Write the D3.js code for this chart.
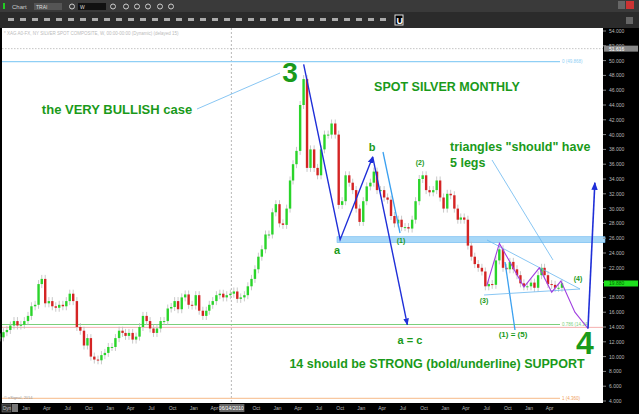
<!DOCTYPE html>
<html><head><meta charset="utf-8">
<script src="https://cdn.jsdelivr.net/npm/d3@7"></script>
<style>body{margin:0;background:#000}svg{display:block}</style>
</head><body><svg id="c" width="639" height="414"></svg>
<script>
// semi-monthly closes, starting Sep 2007
const startMonth = [2007, 8];
const closes = [
12.6,13.3, 13.6,14.2, 14.8,14.2, 14.3,14.8,
15.5,16.8, 17.0,19.8, 20.5,17.2, 17.5,16.8, 16.6,17.0, 16.8,17.5, 18.5,17.5, 14.0,13.5, 11.5,12.5, 10.0,9.6, 9.5,10.2, 10.5,11.3,
11.3,12.5, 13.5,13.2, 12.8,13.2, 12.3,12.7, 14.0,15.5, 14.8,13.8, 13.2,13.8, 14.8,14.8, 16.5,16.7, 17.5,16.4, 18.0,18.4, 17.0,16.9,
18.3,16.2, 15.5,16.2, 17.0,17.5, 18.3,18.5, 18.0,18.3, 18.5,18.8, 17.8,18.0, 18.3,19.5, 20.5,21.8, 23.5,24.5, 26.5,26.5, 29.5,30.6,
28.0,27.8, 30.0,33.8, 36.0,37.8, 44.0,47.5, 35.5,38.0, 35.5,34.5, 38.0,40.0, 40.0,41.5, 40.0,30.5, 31.0,34.5, 33.5,32.5, 30.0,28.2,
31.0,33.0, 33.5,35.0, 32.5,32.5, 31.5,31.2, 29.0,28.0, 28.5,27.5, 27.5,27.3, 28.5,31.0, 34.0,34.5, 32.5,32.2, 32.5,33.8, 31.5,30.0,
32.0,31.8, 30.0,28.5, 28.8,28.5, 25.0,23.5, 22.5,22.0, 21.5,19.5, 19.8,19.7, 23.0,24.5, 22.0,21.8, 22.8,21.8, 21.0,19.9, 19.5,19.5,
20.0,19.3, 21.0,22.0, 21.0,19.8, 19.7,19.3, 19.3,19.9
];
const priceTicks = d3.range(4, 55, 2);
const xTickLabels = ["Jan","Apr","Jul","Oct"];
const fibLevels = [
  {price:49.87, label:"0 (49.868)", color:"#8fcff5"},
  {price:14.34, label:"0.786 (14.34)", color:"#7ccf7c"},
  {price:4.36, label:"1 (4.360)", color:"#f8c8a0"}
];
const lastPrice = 19.88, dashedPrice = 51.616;
// wave annotation points [date, price]
const blueWave = [["2011-04-25",49.5],["2011-10-01",25.8],["2012-02-20",37.0],["2012-07-20",14.3]];
const purpleWave = [["2013-07-01",19.6],["2013-08-25",25.3],["2013-12-10",19.4],["2014-02-15",22.0],["2014-04-10",18.7],["2014-05-20",20.2],["2014-07-20",16.0],["2014-09-15",13.8]];
const arrowUp = [["2014-09-15",13.8],["2014-10-15",33.5]];

const svg = d3.select("#c");
const L=2, R=603, T=28, B=403;
const x = d3.scaleTime().domain([new Date(2008,0,1), new Date(2014,0,1)]).range([26,529]);
const y = d3.scaleLinear().domain([4,54]).range([401,31]);
const G="#1a9a1a";

svg.append("rect").attr("width",639).attr("height",414).attr("fill","#000");
svg.append("rect").attr("x",L).attr("y",T).attr("width",R-L).attr("height",B-T).attr("fill","#fff");
const tb=svg.append("g");
tb.append("rect").attr("width",639).attr("height",12).attr("fill","#3a3a3a");
tb.append("rect").attr("y",12).attr("width",639).attr("height",16).attr("fill","#2b2b2b");
tb.append("rect").attr("x",3).attr("y",3).attr("width",2).attr("height",6).attr("fill","#2c2");
tb.append("text").attr("x",12).attr("y",9).text("Chart").attr("fill","#ccc").attr("font-size",6).attr("font-family","Arial");
tb.append("rect").attr("x",34).attr("y",3).attr("width",28).attr("height",7).attr("fill","#555");
tb.append("text").attr("x",36).attr("y",9).text("TRAI").attr("fill","#ddd").attr("font-size",5).attr("font-family","Arial");
tb.append("rect").attr("x",78).attr("y",3).attr("width",28).attr("height",7).attr("fill","#111");
tb.append("text").attr("x",80).attr("y",9).text("W").attr("fill","#ddd").attr("font-size",5).attr("font-family","Arial");
[72,113,126,137,148,160,171].forEach(cx=>tb.append("circle").attr("cx",cx).attr("cy",6.5).attr("r",2.5).attr("fill","none").attr("stroke","#ccc"));
d3.range(8,390,12).forEach(tx=>tb.append("rect").attr("x",tx).attr("y",18).attr("width",6).attr("height",3).attr("fill","#aaa"));
tb.append("rect").attr("x",395).attr("y",15).attr("width",8).attr("height",10).attr("fill","#000").attr("stroke","#ddd");
tb.append("text").attr("x",396.5).attr("y",23.5).text("U").attr("fill","#fff").attr("font-size",9).attr("font-weight","bold").attr("font-family","Arial");
tb.append("rect").attr("x",618).attr("y",1).attr("width",7).attr("height",8).attr("fill","#666");
tb.append("rect").attr("x",626).attr("y",1).attr("width",8).attr("height",8).attr("fill","#c33");
tb.append("rect").attr("x",626).attr("y",17).attr("width",7).attr("height",7).attr("fill","#666");

svg.append("text").attr("x",4).attr("y",35).text("* XAG A0-FX, NY SILVER SPOT COMPOSITE, W, 00:00-00:00 (Dynamic) (delayed 15)")
 .attr("fill","#bbb").attr("font-size",4.5).attr("font-family","Arial");

svg.append("line").attr("x1",L).attr("x2",R).attr("y1",y(dashedPrice)).attr("y2",y(dashedPrice)).attr("stroke","#aaa").attr("stroke-dasharray","1.5,1.5").attr("stroke-width",0.7);
const vx=x(new Date(2010,5,14));
svg.append("line").attr("x1",vx).attr("x2",vx).attr("y1",T).attr("y2",B).attr("stroke","#999").attr("stroke-dasharray","2,2").attr("stroke-width",0.7);

svg.append("line").attr("x1",L).attr("x2",R).attr("y1",y(13.95)).attr("y2",y(13.95)).attr("stroke","#f5b0b0").attr("stroke-width",1);
fibLevels.forEach(f=>{
  svg.append("line").attr("x1",L).attr("x2",560).attr("y1",y(f.price)).attr("y2",y(f.price)).attr("stroke",f.color).attr("stroke-width",1.2);
  svg.append("text").attr("x",562).attr("y",y(f.price)+1.5).text(f.label).attr("fill",f.color==="#f8c8a0"?"#f0a060":f.color).attr("font-size",4.5).attr("font-family","Arial");
});

svg.append("rect").attr("x",337).attr("y",y(26.2)).attr("width",268).attr("height",y(25.4)-y(26.2)).attr("fill","#a8d8f8").attr("stroke","#6ab8f0").attr("stroke-width",0.6);

const data = closes.map((c,i)=>{
  const m = startMonth[1]+Math.floor(i/2);
  const d = new Date(startMonth[0], m, i%2?16:1);
  const o = i? closes[i-1]: c;
  return {d,o,c};
});
const cg=svg.append("g");
data.forEach(k=>{
  const cx=x(k.d)+2, hi=Math.max(k.o,k.c), lo=Math.min(k.o,k.c);
  cg.append("line").attr("x1",cx).attr("x2",cx).attr("y1",y(hi)-4).attr("y2",y(lo)+4).attr("stroke","#bbb").attr("stroke-width",0.8);
  cg.append("rect").attr("x",cx-1.2).attr("width",2.4).attr("y",y(hi)).attr("height",Math.max(1,y(lo)-y(hi)))
    .attr("fill",k.c>=k.o?"#2ad42a":"#d42424");
});

const defs=svg.append("defs");
defs.append("marker").attr("id","ab").attr("viewBox","0 0 10 10").attr("refX",9).attr("refY",5).attr("markerWidth",5).attr("markerHeight",5).attr("orient","auto")
   .append("path").attr("d","M0,1L10,5L0,9z").attr("fill","#1f2fd8");
const pt=p=>[x(new Date(p[0])),y(p[1])];
const line=d3.line();
svg.append("path").attr("d",line(blueWave.slice(0,3).map(pt))).attr("fill","none").attr("stroke","#1f2fd8").attr("stroke-width",1.4).attr("marker-end","url(#ab)");
svg.append("path").attr("d",line(blueWave.slice(2).map(pt))).attr("fill","none").attr("stroke","#1f2fd8").attr("stroke-width",1.4).attr("marker-end","url(#ab)");
const lb=(a,b)=>svg.append("line").attr("x1",a[0]).attr("y1",a[1]).attr("x2",b[0]).attr("y2",b[1]).attr("stroke","#6ab8f0").attr("stroke-width",0.8);
lb([197,109],[280,73]);
svg.append("line").attr("x1",383).attr("y1",152).attr("x2",400).attr("y2",233).attr("stroke","#3aa0f0").attr("stroke-width",1.3);
svg.append("line").attr("x1",505).attr("y1",262).attr("x2",515).attr("y2",330).attr("stroke","#3aa0f0").attr("stroke-width",1.3);
lb([487,240],[580,289]); lb([484,295],[580,289]); lb([492,160],[553,260]);
svg.append("path").attr("d",line(purpleWave.map(pt))).attr("fill","none").attr("stroke","#a040e0").attr("stroke-width",1.1);
svg.append("path").attr("d",line(arrowUp.map(pt))).attr("fill","none").attr("stroke","#1f2fd8").attr("stroke-width",1.6).attr("marker-end","url(#ab)");

const txt=(t,xx,yy,fs,anchor)=>svg.append("text").attr("x",xx).attr("y",yy).text(t).attr("fill",G).attr("font-size",fs)
  .attr("font-weight","bold").attr("font-family","Arial, Liberation Sans").attr("text-anchor",anchor||"start");
txt("3",290,82,28,"middle");
txt("the VERY BULLISH case",117,114,13,"middle");
txt("SPOT SILVER MONTHLY",447,91,12.5,"middle");
txt("triangles \"should\" have",450,151,12.5);
txt("5 legs",450,167,12.5);
txt("a",337,254,11,"middle");
txt("b",372,151,11,"middle");
txt("(1)",401,243,7,"middle");
txt("(2)",420,165,7,"middle");
txt("(3)",484,303,7,"middle");
txt("(4)",578,281,7,"middle");
txt("(1) = (5)",513,337,8,"middle");
txt("a = c",410,344,11,"middle");
txt("4",585,354,32,"middle");
txt("14 should be STRONG (bold/underline) SUPPORT",437,368,12.5,"middle");
svg.append("text").attr("x",4).attr("y",399).text("© eSignal, 2014").attr("fill","#999").attr("font-size",4).attr("font-family","Arial");

const ax=svg.append("g");
priceTicks.forEach(p=>{
  ax.append("line").attr("x1",R).attr("x2",R+3).attr("y1",y(p)).attr("y2",y(p)).attr("stroke","#888");
  ax.append("text").attr("x",R+6).attr("y",y(p)+2).text(p.toFixed(3)).attr("fill","#bbb").attr("font-size",5).attr("font-family","Arial");
});
ax.append("rect").attr("x",R+1).attr("y",y(dashedPrice)-3).attr("width",34).attr("height",6).attr("fill","#888");
ax.append("text").attr("x",R+6).attr("y",y(dashedPrice)+2).text(dashedPrice.toFixed(3)).attr("fill","#fff").attr("font-size",5).attr("font-family","Arial");
ax.append("rect").attr("x",R+1).attr("y",y(lastPrice)-3).attr("width",34).attr("height",6).attr("fill","#1ee01e");
ax.append("text").attr("x",R+6).attr("y",y(lastPrice)+2).text(lastPrice.toFixed(3)).attr("fill","#060").attr("font-size",5).attr("font-family","Arial");

const months=[];
for(let yr=2008;yr<=2014;yr++) for(let m=0;m<12;m+=3) months.push(new Date(yr,m,1));
months.filter(d=>d<=new Date(2014,3,1)).forEach(d=>{
  if(d.getFullYear()===2010 && d.getMonth()===6) return;
  svg.append("text").attr("x",x(d)).attr("y",410).text(xTickLabels[d.getMonth()/3]).attr("fill","#bbb").attr("font-size",5).attr("font-family","Arial").attr("text-anchor","middle");
});
svg.append("rect").attr("x",vx-12).attr("y",404).attr("width",25).attr("height",8).attr("fill","#666");
svg.append("text").attr("x",vx).attr("y",410).text("06/14/2010").attr("fill","#fff").attr("font-size",5).attr("font-family","Arial").attr("text-anchor","middle");
svg.append("rect").attr("x",2).attr("y",404).attr("width",9).attr("height",8).attr("fill","#333").attr("stroke","#888").attr("stroke-width",0.5);
svg.append("text").attr("x",3).attr("y",410).text("Dyn").attr("fill","#ccc").attr("font-size",4.5).attr("font-family","Arial");
svg.append("rect").attr("x",12).attr("y",404).attr("width",6).attr("height",8).attr("fill","#777");
</script></body></html>
